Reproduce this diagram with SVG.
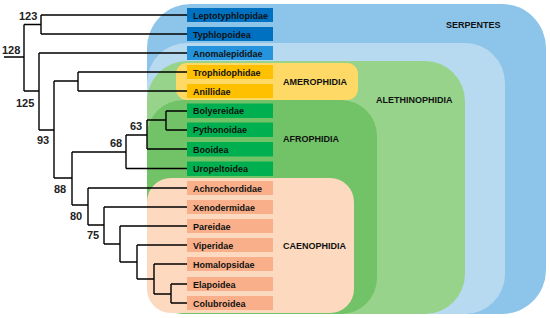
<svg xmlns="http://www.w3.org/2000/svg" width="550" height="318" viewBox="0 0 550 318">
<style>
.lbl{font-family:"Liberation Sans",Arial,sans-serif;font-weight:bold;font-size:9px;fill:#111}
.num{font-family:"Liberation Sans",Arial,sans-serif;font-weight:bold;font-size:11px;fill:#222}
.grp{font-family:"Liberation Sans",Arial,sans-serif;font-weight:bold;font-size:9px;fill:#111}
.tree path{fill:none;stroke:#000;stroke-width:1.4}
</style>
<rect width="550" height="318" fill="#fff"/>
<g id="serpentes"><rect x="147" y="4" width="399" height="310" rx="44" fill="#8DC4EA"/><text class="grp" x="446" y="28">SERPENTES</text></g>
<g id="lightblue"><rect x="147" y="43" width="358" height="271" rx="40" fill="#B8DAF1"/></g>
<g id="alethinophidia"><rect x="147" y="61" width="318" height="253" rx="40" fill="#98D38B"/><text class="grp" x="376" y="103">ALETHINOPHIDIA</text></g>
<g id="afrophidia"><rect x="147" y="100" width="230" height="214" rx="36" fill="#72C267"/><text class="grp" x="283" y="142">AFROPHIDIA</text></g>
<g id="caenophidia"><rect x="147" y="178" width="207" height="135" rx="24" fill="#FCD9BF"/><text class="grp" x="283" y="249">CAENOPHIDIA</text></g>
<g id="amerophidia"><rect x="176" y="63" width="182" height="37" rx="11" fill="#FFD966"/><text class="grp" x="283" y="85">AMEROPHIDIA</text></g>
<g id="taxa">
<g id="leptotyphlopidae"><rect x="187" y="8" width="86" height="14" fill="#0070C0"/><text class="lbl" x="193" y="18.5">Leptotyphlopidae</text></g>
<g id="typhlopoidea"><rect x="187" y="27" width="86" height="14" fill="#0070C0"/><text class="lbl" x="193" y="37.5">Typhlopoidea</text></g>
<g id="anomalepididae"><rect x="187" y="46" width="86" height="14" fill="#2694DD"/><text class="lbl" x="193" y="56.5">Anomalepididae</text></g>
<g id="trophidophiidae"><rect x="187" y="65" width="86" height="14" fill="#FFC000"/><text class="lbl" x="193" y="75.5">Trophidophidae</text></g>
<g id="anillidae"><rect x="187" y="84" width="86" height="14" fill="#FFC000"/><text class="lbl" x="193" y="94.5">Anillidae</text></g>
<g id="bolyereidae"><rect x="187" y="103.5" width="86" height="14.5" fill="#00B050"/><text class="lbl" x="193" y="114">Bolyereidae</text></g>
<g id="pythonoidae"><rect x="187" y="122.5" width="86" height="14.5" fill="#00B050"/><text class="lbl" x="193" y="133">Pythonoidae</text></g>
<g id="booidea"><rect x="187" y="142" width="86" height="14.5" fill="#00B050"/><text class="lbl" x="193" y="152.5">Booidea</text></g>
<g id="uropeltoidea"><rect x="187" y="161.5" width="86" height="14.5" fill="#00B050"/><text class="lbl" x="193" y="172">Uropeltoidea</text></g>
<g id="achrochordidae"><rect x="187" y="181" width="86" height="14" fill="#F9B08A"/><text class="lbl" x="193" y="191.5">Achrochordidae</text></g>
<g id="xenodermidae"><rect x="187" y="200" width="86" height="14" fill="#F9B08A"/><text class="lbl" x="193" y="210.5">Xenodermidae</text></g>
<g id="pareidae"><rect x="187" y="219" width="86" height="14" fill="#F9B08A"/><text class="lbl" x="193" y="229.5">Pareidae</text></g>
<g id="viperidae"><rect x="187" y="238" width="86" height="14" fill="#F9B08A"/><text class="lbl" x="193" y="248.5">Viperidae</text></g>
<g id="homalopsidae"><rect x="187" y="257" width="86" height="14" fill="#F9B08A"/><text class="lbl" x="193" y="267.5">Homalopsidae</text></g>
<g id="elapoidea"><rect x="187" y="277" width="86" height="14" fill="#F9B08A"/><text class="lbl" x="193" y="287.5">Elapoidea</text></g>
<g id="colubroidea"><rect x="187" y="296" width="86" height="14" fill="#F9B08A"/><text class="lbl" x="193" y="306.5">Colubroidea</text></g>
</g>
<g id="connectors" class="tree">
<path d="M4 57H24M24 24.5V91M24 24.5H41M41 15V34M41 15H187M41 34H187"/>
<path d="M24 91H39M39 53V130M39 53H187M39 130H54M54 81V178M54 81H78M78 72V91M78 72H187M78 91H187"/>
<path d="M54 178H72M72 152V205M72 152H126M126 135V168.5M126 168.5H187M126 135H147M147 120V149M147 149H187M147 120H166M166 111V130M166 111H187M166 130H187"/>
<path d="M72 205H88M88 188V225M88 188H187M88 225H104M104 207V244M104 207H187M104 244H120M120 226V262M120 226H187M120 262H137M137 245V279M137 245H187M137 279H154M154 264V294M154 264H187M154 294H171M171 284V303M171 284H187M171 303H187"/>
</g>
<g id="support">
<text class="num" x="19" y="20">123</text>
<text class="num" x="2" y="54">128</text>
<text class="num" x="16" y="107">125</text>
<text class="num" x="37" y="144">93</text>
<text class="num" x="130" y="130">63</text>
<text class="num" x="110" y="147">68</text>
<text class="num" x="54" y="193">88</text>
<text class="num" x="70" y="220">80</text>
<text class="num" x="87" y="239">75</text>
</g>
</svg>
